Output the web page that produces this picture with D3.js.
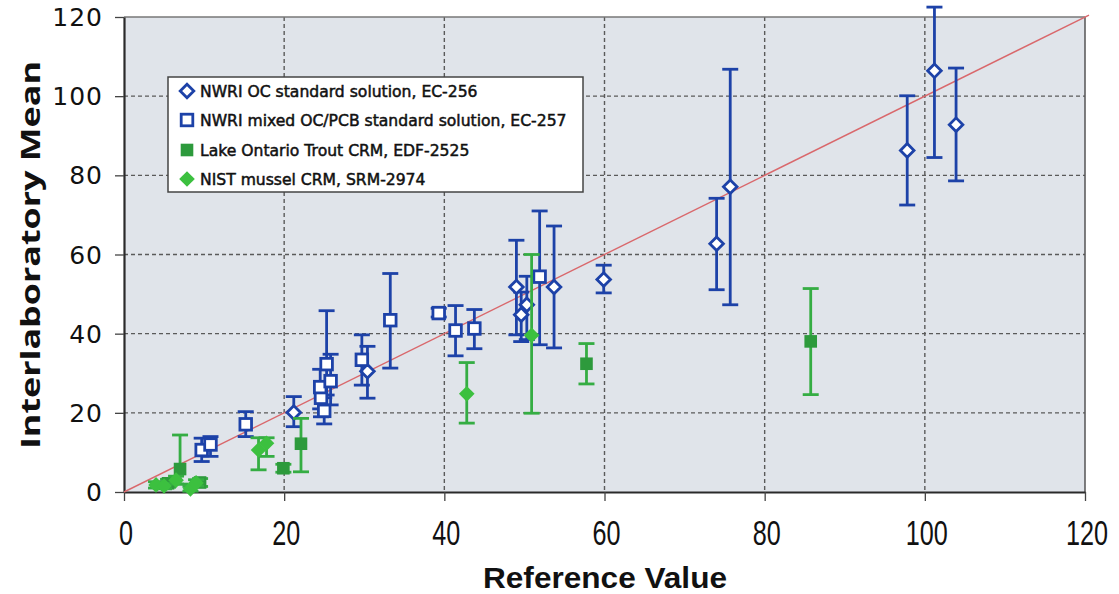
<!DOCTYPE html>
<html>
<head>
<meta charset="utf-8">
<script src="https://cdn.jsdelivr.net/npm/d3@7"></script>
<style>
  html, body { margin: 0; padding: 0; background: #ffffff; }
  svg { display: block; }
</style>
</head>
<body>
<svg id="chart" width="1119" height="594"></svg>
<script>
// Each point: [reference value, interlaboratory mean, error-bar low, error-bar high]
const ocStandard = [        // NWRI OC standard solution, EC-256
  [21.2, 20.1, 16.5, 24.1],
  [30.4, 30.5, 23.7, 36.8],
  [49.0, 51.8, 39.7, 63.6],
  [50.3, 47.3, 38.5, 54.5],
  [49.6, 44.8, 38.0, 50.5],
  [53.7, 51.8, 36.4, 67.2],
  [59.9, 53.7, 50.3, 57.3],
  [74.0, 62.7, 51.1, 74.2],
  [75.7, 77.1, 47.3, 106.8],
  [97.8, 86.3, 72.5, 100.1],
  [101.2, 106.4, 84.5, 122.5],
  [103.9, 92.8, 78.6, 107.1]
];
const ocPcbStandard = [     // NWRI mixed OC/PCB standard solution, EC-257
  [9.7, 10.6, 7.7, 13.6],
  [10.8, 12.0, 9.0, 14.0],
  [15.2, 17.1, 14.0, 20.3],
  [25.0, 20.5, 17.2, 23.8],
  [24.6, 23.8, 19.0, 27.2],
  [24.5, 26.5, 21.0, 31.0],
  [25.8, 28.0, 22.0, 34.8],
  [25.3, 32.3, 24.5, 45.8],
  [29.7, 33.4, 27.0, 39.7],
  [33.25, 43.4, 31.3, 55.2],
  [39.3, 45.2, 44.2, 46.4],
  [41.4, 40.8, 34.4, 47.1],
  [43.75, 41.3, 36.2, 46.1],
  [51.9, 54.4, 37.2, 71.0]
];
const troutCrm = [          // Lake Ontario Trout CRM, EDF-2525
  [5.5, 2.2, 1.2, 3.2],
  [7.0, 5.8, 2.0, 14.4],
  [9.5, 2.4, 1.4, 3.4],
  [19.9, 6.0, 5.0, 7.0],
  [22.1, 12.2, 5.1, 18.6],
  [57.75, 32.4, 27.3, 37.5],
  [85.75, 38.05, 24.6, 51.4]
];
const musselCrm = [         // NIST mussel CRM, SRM-2974
  [4.0, 1.8, 1.0, 2.6],
  [5.0, 1.5, 0.8, 2.2],
  [6.5, 3.0, 2.0, 4.0],
  [8.3, 0.8, 0.2, 1.4],
  [9.0, 2.3, 1.5, 3.1],
  [16.8, 10.6, 5.6, 13.7],
  [17.8, 12.3, 9.0, 13.7],
  [42.8, 24.8, 17.4, 32.7],
  [50.9, 39.6, 19.9, 60.0]
];
const xTicks = [0, 20, 40, 60, 80, 100, 120];
const yTicks = [0, 20, 40, 60, 80, 100, 120];
const legendLabels = [
  "NWRI OC standard solution, EC-256",
  "NWRI mixed OC/PCB standard solution, EC-257",
  "Lake Ontario Trout CRM, EDF-2525",
  "NIST mussel CRM, SRM-2974"
];

const svg = d3.select("#chart");
const plotLeft = 124, plotRight = 1085, plotTop = 17, plotBottom = 492;

const x = d3.scaleLinear().domain([0, 120]).range([plotLeft, plotRight]);
const y = d3.scaleLinear().domain([0, 120]).range([plotBottom, plotTop]);

const blue = "#1d42a8";
const greenBar = "#35ad43";
const troutGreen = "#2d9a3c";
const musselGreen = "#3cc03f";

// plot background
svg.append("rect")
  .attr("x", plotLeft).attr("y", plotTop)
  .attr("width", plotRight - plotLeft).attr("height", plotBottom - plotTop)
  .attr("fill", "#e0e4ea");

// dashed grid
const grid = svg.append("g");
grid.selectAll("line.gx").data(xTicks.filter(d => d > 0 && d < 120)).join("line")
  .attr("class", "gx")
  .attr("x1", d => x(d)).attr("x2", d => x(d))
  .attr("y1", plotTop).attr("y2", plotBottom)
  .attr("stroke", "#5a5a5a").attr("stroke-width", 1.4).attr("stroke-dasharray", "4,3");
grid.selectAll("line.gy").data(yTicks.filter(d => d > 0 && d < 120)).join("line")
  .attr("class", "gy")
  .attr("y1", d => y(d)).attr("y2", d => y(d))
  .attr("x1", plotLeft).attr("x2", plotRight)
  .attr("stroke", "#5a5a5a").attr("stroke-width", 1.4).attr("stroke-dasharray", "4,3");

// frame: top and right
svg.append("line").attr("x1", plotLeft).attr("x2", plotRight).attr("y1", plotTop).attr("y2", plotTop)
  .attr("stroke", "#777").attr("stroke-width", 1.5);
svg.append("line").attr("x1", plotRight).attr("x2", plotRight).attr("y1", plotTop).attr("y2", plotBottom)
  .attr("stroke", "#555").attr("stroke-width", 1.5);

// axes
const xAxis = d3.axisBottom(x).tickValues(xTicks).tickSize(9).tickSizeOuter(0).tickFormat("");
const yAxis = d3.axisLeft(y).tickValues(yTicks).tickSize(9).tickSizeOuter(0).tickFormat("");
const gx = svg.append("g").attr("transform", `translate(0,${plotBottom})`).call(xAxis);
const gy = svg.append("g").attr("transform", `translate(${plotLeft},0)`).call(yAxis);
[gx, gy].forEach(g => {
  g.select(".domain").attr("stroke", "#2a2a2a").attr("stroke-width", 2.2);
  g.selectAll(".tick line").attr("stroke", "#444").attr("stroke-width", 1.3);
});

// tick labels
svg.append("g").selectAll("text").data(yTicks).join("text")
  .attr("x", 103).attr("y", d => y(d) + 9)
  .attr("text-anchor", "end")
  .attr("font-family", "DejaVu Sans, sans-serif")
  .attr("font-size", 25).attr("letter-spacing", 1)
  .attr("fill", "#111")
  .text(d => d);

svg.append("g").selectAll("text").data(xTicks).join("text")
  .attr("transform", d => `translate(${x(d) + 2},${545}) scale(0.72,1)`)
  .attr("text-anchor", "middle")
  .attr("font-family", "Liberation Sans, Arial, sans-serif")
  .attr("font-size", 35)
  .attr("fill", "#111")
  .text(d => d);

// axis titles
svg.append("text")
  .attr("x", 605).attr("y", 588)
  .attr("text-anchor", "middle")
  .attr("font-family", "Liberation Sans, Arial, sans-serif")
  .attr("font-weight", "bold")
  .attr("font-size", 29)
  .attr("textLength", 244).attr("lengthAdjust", "spacingAndGlyphs")
  .attr("fill", "#111")
  .text("Reference Value");

svg.append("text")
  .attr("transform", "translate(40,255) rotate(-90)")
  .attr("text-anchor", "middle")
  .attr("font-family", "Open Sans, DejaVu Sans, sans-serif")
  .attr("font-weight", "bold")
  .attr("font-size", 27)
  .attr("textLength", 388).attr("lengthAdjust", "spacingAndGlyphs")
  .attr("fill", "#111")
  .text("Interlaboratory Mean");

// 1:1 reference line
svg.append("line")
  .attr("x1", x(0)).attr("y1", y(0)).attr("x2", x(120.5)).attr("y2", y(120.5))
  .attr("stroke", "#d9686c").attr("stroke-width", 1.4);

// markers
const diamondPath = (r) => `M0,${-r}L${r},0L0,${r}L${-r},0Z`;

function drawShape(sel, shape, color) {
  if (shape === "openDiamond") {
    sel.append("path").attr("d", diamondPath(6.8))
      .attr("fill", "#fff").attr("stroke", color).attr("stroke-width", 2.8);
  } else if (shape === "openSquare") {
    sel.append("rect").attr("x", -5.8).attr("y", -5.8).attr("width", 11.6).attr("height", 11.6)
      .attr("fill", "#fff").attr("stroke", color).attr("stroke-width", 2.8);
  } else if (shape === "square") {
    sel.append("rect").attr("x", -6.3).attr("y", -6.3).attr("width", 12.6).attr("height", 12.6)
      .attr("fill", color);
  } else {
    sel.append("path").attr("d", diamondPath(7.8)).attr("fill", color);
  }
}

function drawSeries(data, color, barColor, shape) {
  const g = svg.append("g");
  const capW = 8;
  const bars = g.selectAll("g.bar").data(data).join("g")
    .attr("class", "bar")
    .attr("stroke", barColor).attr("stroke-width", 2.8).attr("fill", "none");
  bars.append("line")
    .attr("x1", d => x(d[0])).attr("x2", d => x(d[0]))
    .attr("y1", d => y(d[2])).attr("y2", d => y(d[3]));
  bars.append("line")
    .attr("x1", d => x(d[0]) - capW).attr("x2", d => x(d[0]) + capW)
    .attr("y1", d => y(d[3])).attr("y2", d => y(d[3]));
  bars.append("line")
    .attr("x1", d => x(d[0]) - capW).attr("x2", d => x(d[0]) + capW)
    .attr("y1", d => y(d[2])).attr("y2", d => y(d[2]));

  const pts = g.selectAll("g.pt").data(data).join("g")
    .attr("class", "pt")
    .attr("transform", d => `translate(${x(d[0])},${y(d[1])})`);
  drawShape(pts, shape, color);
}

drawSeries(ocStandard, blue, blue, "openDiamond");
drawSeries(ocPcbStandard, blue, blue, "openSquare");
drawSeries(troutCrm, troutGreen, greenBar, "square");
drawSeries(musselCrm, musselGreen, greenBar, "diamond");

// legend
const legend = svg.append("g");
legend.append("rect")
  .attr("x", 168).attr("y", 77).attr("width", 415).attr("height", 115)
  .attr("fill", "#fff").attr("stroke", "#444").attr("stroke-width", 1.5);
const legendShapes = [
  ["openDiamond", blue], ["openSquare", blue], ["square", troutGreen], ["diamond", musselGreen]
];
const legendRowY = [91, 120, 150, 179];
const rows = legend.selectAll("g.row").data(legendLabels).join("g")
  .attr("class", "row")
  .attr("transform", (d, i) => `translate(0,${legendRowY[i]})`);
rows.each(function(d, i) {
  const m = d3.select(this).append("g").attr("transform", "translate(187,0)");
  drawShape(m, legendShapes[i][0], legendShapes[i][1]);
});
rows.append("text")
  .attr("x", 200).attr("y", 5.8)
  .attr("font-family", "DejaVu Sans, sans-serif")
  .attr("font-size", 15.6)
  .attr("fill", "#111").attr("stroke", "#111").attr("stroke-width", 0.5)
  .text(d => d);
</script>
</body>
</html>
